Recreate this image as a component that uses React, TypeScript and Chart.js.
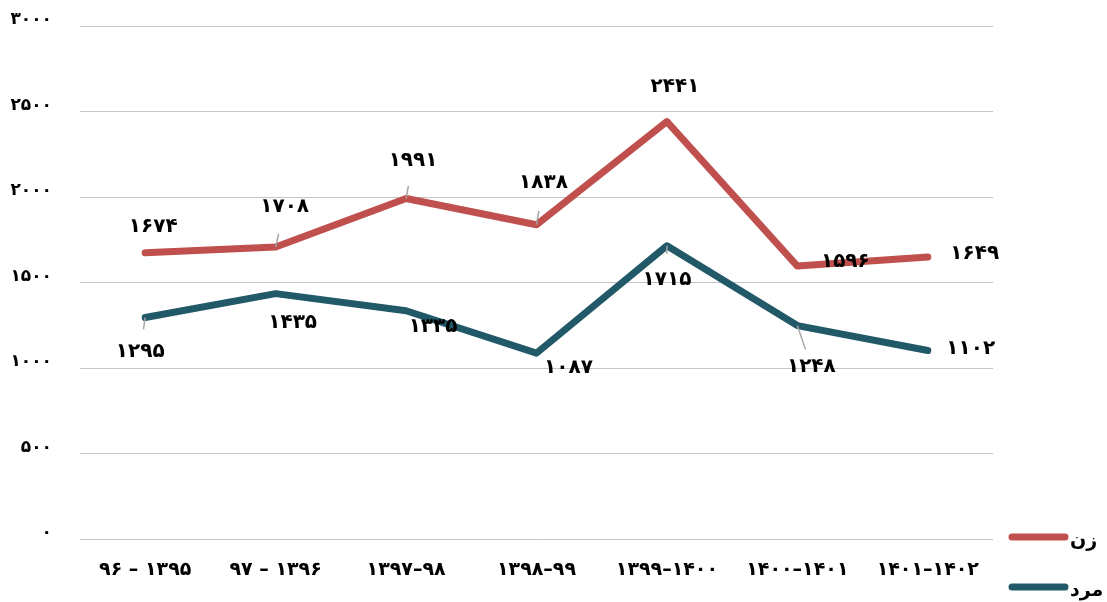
import { useEffect, useRef } from "react";
import { Chart, registerables } from "chart.js";

Chart.register(...registerables);

const categories = [
  "۹۶ – ۱۳۹۵",
  "۹۷ – ۱۳۹۶",
  "۱۳۹۷–۹۸",
  "۱۳۹۸–۹۹",
  "۱۳۹۹–۱۴۰۰",
  "۱۴۰۰–۱۴۰۱",
  "۱۴۰۱–۱۴۰۲",
];
const womenValues = [1674, 1708, 1991, 1838, 2441, 1596, 1649];
const menValues = [1295, 1435, 1335, 1087, 1715, 1248, 1102];
const seriesNames = ["زن", "مرد"];
const yMin = 0;
const yMax = 3000;
const yStep = 500;

const COLORS = ["#C0504D", "#215968"];
const FONT = "'DejaVu Sans', sans-serif";

const toFa = (v: number | string) =>
  String(v).replace(/\d/g, (d) => "۰۱۲۳۴۵۶۷۸۹"[Number(d)]);

// label placement styles: [dx, dy, leaderFraction]
const womenPlacement = [
  [8, -26, 0],
  [9, -40, 0.33],
  [7, -38, 0.33],
  [7, -42, 0.33],
  [8, -35, 0],
  [48, -4, 0],
  [47, -3, 0],
];
const menPlacement = [
  [-5, 34, 0.35],
  [17, 29, 0],
  [27, 16, 0],
  [32, 15, 0],
  [0, 34, 0.24],
  [14, 41, 0.58],
  [43, -2, 0],
];

const pointLabels = {
  id: "pointLabels",
  afterDatasetsDraw(chart: any) {
    const ctx = chart.ctx;
    chart.data.datasets.forEach((ds: any, di: number) => {
      const meta = chart.getDatasetMeta(di);
      const place = ds.labelPlacement;
      meta.data.forEach((pt: any, i: number) => {
        const [dx, dy, lf] = place[i];
        ctx.save();
        if (lf > 0) {
          ctx.strokeStyle = "#a6a6a6";
          ctx.lineWidth = 1.5;
          ctx.beginPath();
          ctx.moveTo(pt.x, pt.y);
          ctx.lineTo(pt.x + dx * lf, pt.y + dy * lf);
          ctx.stroke();
        }
        ctx.font = `bold 20px ${FONT}`;
        ctx.fillStyle = "#000";
        ctx.textAlign = "center";
        ctx.textBaseline = "middle";
        ctx.fillText(toFa(ds.data[i]), pt.x + dx, pt.y + dy);
        ctx.restore();
      });
    });
  },
};

const sideLegend = {
  id: "sideLegend",
  afterDraw(chart: any) {
    const ctx = chart.ctx;
    const w = chart.width;
    const h = chart.height;
    chart.data.datasets.forEach((ds: any, di: number) => {
      const y = h - 65 + di * 50;
      ctx.save();
      ctx.strokeStyle = ds.borderColor;
      ctx.lineWidth = 7;
      ctx.lineCap = "round";
      ctx.beginPath();
      ctx.moveTo(w - 95, y);
      ctx.lineTo(w - 42, y);
      ctx.stroke();
      ctx.font = `bold 19px ${FONT}`;
      ctx.fillStyle = "#000";
      ctx.textAlign = "left";
      ctx.textBaseline = "middle";
      ctx.fillText(ds.label, w - 37, y + 4);
      ctx.restore();
    });
  },
};

export default function App() {
  const ref = useRef<HTMLCanvasElement | null>(null);

  useEffect(() => {
    if (!ref.current) return;
    const chart = new Chart(ref.current, {
      type: "line",
      data: {
        labels: categories,
        datasets: [
          {
            label: seriesNames[0],
            data: womenValues,
            borderColor: COLORS[0],
            backgroundColor: COLORS[0],
            borderWidth: 7,
            borderCapStyle: "round",
            borderJoinStyle: "round",
            pointRadius: 0,
            tension: 0,
            labelPlacement: womenPlacement,
          } as any,
          {
            label: seriesNames[1],
            data: menValues,
            borderColor: COLORS[1],
            backgroundColor: COLORS[1],
            borderWidth: 7,
            borderCapStyle: "round",
            borderJoinStyle: "round",
            pointRadius: 0,
            tension: 0,
            labelPlacement: menPlacement,
          } as any,
        ],
      },
      options: {
        animation: false,
        responsive: true,
        maintainAspectRatio: false,
        layout: { padding: { left: 0, right: 114, top: 26, bottom: 0 } },
        plugins: {
          legend: { display: false },
          tooltip: { enabled: false },
        },
        scales: {
          x: {
            offset: true,
            grid: { display: false, drawTicks: false },
            border: { display: false },
            ticks: {
              color: "#000",
              font: { family: FONT, size: 19, weight: "bold" },
              padding: 20,
              maxRotation: 0,
              autoSkip: false,
            },
            afterFit: (s: any) => {
              s.height = 63;
            },
          },
          y: {
            min: yMin,
            max: yMax,
            ticks: {
              stepSize: yStep,
              color: "#000",
              font: { family: FONT, size: 17, weight: "bold" },
              padding: 28,
              labelOffset: -6,
              callback: (v: any) => toFa(v),
            },
            grid: { color: "#c4c4c4", lineWidth: 1, drawTicks: false },
            border: { display: false },
            afterFit: (s: any) => {
              s.width = 80;
              s.paddingTop = 0;
              s.paddingBottom = 0;
            },
          },
        },
      },
      plugins: [pointLabels, sideLegend],
    });
    return () => chart.destroy();
  }, []);

  return (
    <div
      style={{
        position: "fixed",
        left: 0,
        top: 0,
        width: 1107,
        height: 602,
        background: "#fff",
      }}
    >
      <canvas ref={ref} />
    </div>
  );
}
